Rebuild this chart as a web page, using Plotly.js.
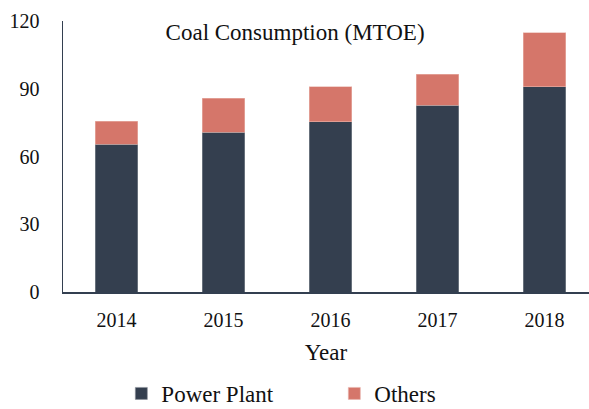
<!DOCTYPE html>
<html>
<head>
<meta charset="utf-8">
<script src="https://cdn.plot.ly/plotly-3.0.1.min.js"></script>
<style>html,body{margin:0;padding:0;background:#fff;}</style>
</head>
<body>
<div id="chart" style="width:589px;height:409px;"></div>
<script>
const years = ["2014", "2015", "2016", "2017", "2018"];
const powerPlant = [65.5, 70.7, 75.3, 82.8, 90.8];
const others = [10.1, 15.1, 15.6, 13.7, 24.0];
const seriesNames = ["Power Plant", "Others"];
const yTicks = [0, 30, 60, 90, 120];

const font = "Liberation Serif";

const traces = [
  {type: "bar", name: seriesNames[0], x: years, y: powerPlant, width: 0.4,
   marker: {color: "#343F4F", line: {color: "#8B919A", width: 0.6}}},
  {type: "bar", name: seriesNames[1], x: years, y: others, width: 0.4,
   marker: {color: "#D5766A", line: {color: "#E9B5AE", width: 0.6}}}
];

const layout = {
  width: 589, height: 409,
  barmode: "stack",
  margin: {l: 63, r: 0, t: 21, b: 117},
  paper_bgcolor: "#fff", plot_bgcolor: "#fff",
  font: {family: font, size: 20, color: "#111"},
  title: {text: "Coal Consumption (MTOE)", font: {family: font, size: 23, color: "#111"},
          x: 0.501, xanchor: "center", xref: "container", y: 0.922, yanchor: "middle", yref: "container"},
  xaxis: {type: "category", range: [-0.5, 4.416], showgrid: false, zeroline: false,
          showline: true, linecolor: "#333F50", linewidth: 1.5, ticks: "", ticklabelstandoff: 9,
          tickfont: {family: font, size: 20, color: "#111"},
          title: {text: "Year", font: {family: font, size: 23, color: "#111"}, standoff: 14}},
  yaxis: {range: [0, 120], tickvals: yTicks, ticktext: yTicks.map(String), showgrid: false, zeroline: false,
          showline: true, linecolor: "#333F50", linewidth: 1.5, ticks: "", ticklabelstandoff: 18,
          tickfont: {family: font, size: 20, color: "#111"}},
  showlegend: true,
  legend: {orientation: "h", xref: "container", yref: "container", x: 0.206, xanchor: "left",
           y: 0.038, yanchor: "middle", font: {family: font, size: 23, color: "#111"},
           entrywidth: 168, traceorder: "normal", itemwidth: 30, borderwidth: 0}
};

Plotly.newPlot("chart", traces, layout, {displayModeBar: false, staticPlot: true});
</script>
</body>
</html>
